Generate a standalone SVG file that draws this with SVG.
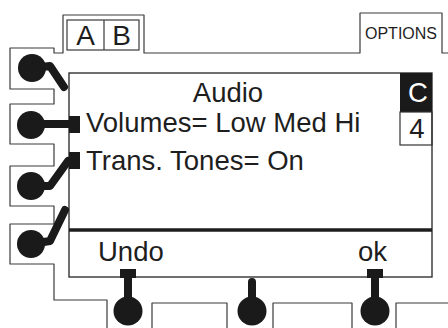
<svg xmlns="http://www.w3.org/2000/svg" width="448" height="328" viewBox="0 0 448 328">
<style>
.frame{fill:none;stroke:#3a3a3a;stroke-width:1.2;stroke-linejoin:round}
.knob{fill:#1a1a1a}
.stem{fill:none;stroke:#1a1a1a;stroke-width:8;stroke-linecap:round;stroke-linejoin:round}
.t{font-family:"Liberation Sans",Arial,sans-serif;fill:#1e1e1e}
.big{font-size:27.5px}
</style>
<rect width="448" height="328" fill="#fff"/>
<g id="frame">
<path class="frame" d="M448,53 H442 V13 H360 V53 H144 V15 H63 V53 H54 V48 H10 V89 H54 V104 H10 V144 H54 V166 H10 V206 H54 V224 H10 V264 H54 V300 H107 V328"/>
<path class="frame" d="M152,328 V303 H227 V328 M273,328 V303 H352 V328 M396,328 V303 H448"/>
</g>
<g id="tabAB">
<rect x="67" y="20" width="72" height="30" fill="none" stroke="#3a3a3a" stroke-width="1.2"/>
<line x1="104" y1="20" x2="104" y2="50" stroke="#3a3a3a" stroke-width="1.2"/>
<text class="t" x="85.5" y="45" font-size="28" text-anchor="middle">A</text>
<text class="t" x="121.5" y="45" font-size="28" text-anchor="middle">B</text>
</g>
<g id="tabOptions">
<text class="t" x="401" y="38.5" font-size="16" text-anchor="middle">OPTIONS</text>
</g>
<g id="screen">
<rect x="69" y="73" width="363" height="204" fill="none" stroke="#333" stroke-width="1.4"/>
<line x1="69" y1="230" x2="432" y2="230" stroke="#1e1e1e" stroke-width="3.5"/>
<rect x="400" y="73" width="32" height="39" fill="#1a1a1a"/>
<rect x="400" y="112" width="32" height="33" fill="none" stroke="#333" stroke-width="1.2"/>
<text x="418" y="102" text-anchor="middle" class="t big" style="fill:#fff">C</text>
<text class="t big" x="417" y="138" text-anchor="middle">4</text>
<text class="t big" x="228" y="102" text-anchor="middle">Audio</text>
<text class="t big" x="86" y="132">Volumes= Low Med Hi</text>
<text class="t big" x="86" y="170">Trans. Tones= On</text>
<text class="t big" x="98" y="261">Undo</text>
<text class="t big" x="358" y="261">ok</text>
</g>
<g id="connectors">
<g id="knobL1">
<circle class="knob" cx="32" cy="68" r="14"/>
<polyline class="stem" points="32,68 50,66 64,87"/>
</g>
<g id="knobL2">
<circle class="knob" cx="31" cy="125" r="14"/>
<polyline class="stem" points="31,124 70,124"/>
<rect class="knob" x="69" y="116" width="11" height="17"/>
</g>
<g id="knobL3">
<circle class="knob" cx="31" cy="186" r="14"/>
<polyline class="stem" points="31,186 50,186 68,161"/>
<rect class="knob" x="69" y="152" width="11" height="17"/>
</g>
<g id="knobL4">
<circle class="knob" cx="31" cy="244" r="14"/>
<polyline class="stem" points="31,244 50,241 65,210"/>
</g>
<g id="knobB1">
<rect class="knob" x="120" y="269" width="16" height="9"/>
<line class="stem" x1="128" y1="276" x2="128" y2="310" style="stroke-linecap:butt"/>
<circle class="knob" cx="128" cy="311" r="14.5"/>
</g>
<g id="knobB2">
<line class="stem" x1="252" y1="282" x2="252" y2="310"/>
<circle class="knob" cx="252" cy="311" r="14.5"/>
</g>
<g id="knobB3">
<rect class="knob" x="367" y="269" width="16" height="9"/>
<line class="stem" x1="375" y1="276" x2="375" y2="310" style="stroke-linecap:butt"/>
<circle class="knob" cx="375" cy="311" r="14.5"/>
</g>
</g>
</svg>
